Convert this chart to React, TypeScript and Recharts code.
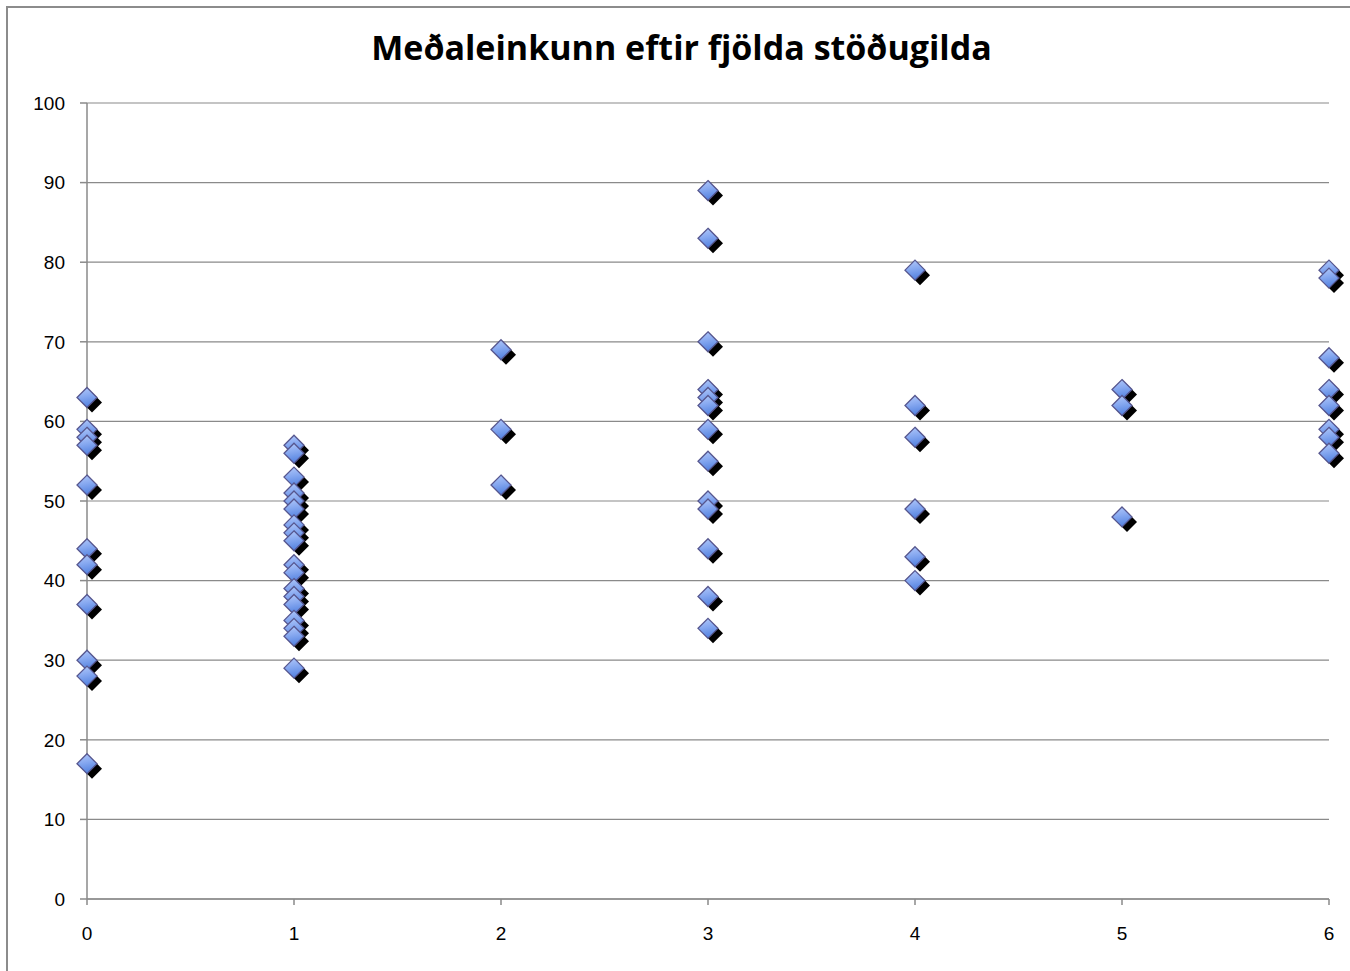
import React from 'react';
import { ScatterChart, Scatter, XAxis, YAxis, CartesianGrid } from 'recharts';

const title = 'Meðaleinkunn eftir fjölda stöðugilda';
const xTicks = [0, 1, 2, 3, 4, 5, 6];
const yTicks = [0, 10, 20, 30, 40, 50, 60, 70, 80, 90, 100];

const grades0 = [63, 59, 58, 57, 52, 44, 42, 37, 30, 28, 17];
const grades1 = [57, 56, 53, 51, 50, 49, 47, 46, 45, 42, 41, 39, 38, 37, 35, 34, 33, 29];
const grades2 = [69, 59, 52];
const grades3 = [89, 83, 70, 64, 63, 62, 59, 55, 50, 49, 44, 38, 34];
const grades4 = [79, 62, 58, 49, 43, 40];
const grades5 = [64, 62, 48];
const grades6 = [79, 78, 68, 64, 62, 59, 58, 56];

const columns = [grades0, grades1, grades2, grades3, grades4, grades5, grades6];
const data = columns.flatMap((vals, i) => vals.map((v) => ({ x: xTicks[i], y: v })));

const Diamond = (props: any) => {
  const { cx, cy } = props;
  if (cx == null || cy == null) return null;
  const r = 10;
  const s = 5;
  const pts = (ox: number, oy: number) =>
    `${cx + ox},${cy + oy - r} ${cx + ox + r},${cy + oy} ${cx + ox},${cy + oy + r} ${cx + ox - r},${cy + oy}`;
  return (
    <g>
      <polygon points={pts(s, s)} fill="#000" />
      <polygon points={pts(0, 0)} fill="url(#diamondGrad)" stroke="#56568e" strokeWidth={1.3} />
    </g>
  );
};

export default function App() {
  return (
    <div style={{ position: 'absolute', left: 0, top: 0, width: 1350, height: 971, overflow: 'hidden', background: '#fff' }}>
      <div
        style={{
          position: 'absolute',
          left: 6,
          top: 6,
          width: 1400,
          height: 1000,
          border: '2px solid #8c8c8c',
          boxSizing: 'border-box',
        }}
      />
      <div
        style={{
          position: 'absolute',
          left: 0,
          width: 1363,
          top: 25,
          textAlign: 'center',
          fontFamily: '"Open Sans", sans-serif',
          fontWeight: 700,
          fontSize: 34,
          lineHeight: '44px',
          whiteSpace: 'nowrap',
          color: '#000',
        }}
      >
        {title}
      </div>
      <div style={{ position: 'absolute', left: 0, top: 0 }}>
        <ScatterChart width={1350} height={971} margin={{ top: 103, right: 21, bottom: 0, left: 0 }}>
          <defs>
            <linearGradient id="diamondGrad" x1="0" y1="0" x2="0.2" y2="1">
              <stop offset="0%" stopColor="#b4cafa" />
              <stop offset="50%" stopColor="#86a8f0" />
              <stop offset="100%" stopColor="#5583e0" />
            </linearGradient>
          </defs>
          <CartesianGrid vertical={false} stroke="#8a8a8a" strokeWidth={1.2} />
          <XAxis
            type="number"
            dataKey="x"
            domain={[0, 6]}
            ticks={xTicks}
            interval={0}
            height={72}
            stroke="#8a8a8a"
            strokeWidth={1.5}
            tickSize={6}
            tickMargin={22}
            tick={{ fill: '#000', fontSize: 19, fontFamily: '"Liberation Sans", Arial, sans-serif' }}
          />
          <YAxis
            type="number"
            dataKey="y"
            domain={[0, 100]}
            ticks={yTicks}
            interval={0}
            width={87}
            stroke="#8a8a8a"
            strokeWidth={1.5}
            tickSize={7}
            tickMargin={15}
            tick={{ fill: '#000', fontSize: 19, fontFamily: '"Liberation Sans", Arial, sans-serif' }}
          />
          <Scatter data={data} shape={Diamond} isAnimationActive={false} />
        </ScatterChart>
      </div>
    </div>
  );
}
